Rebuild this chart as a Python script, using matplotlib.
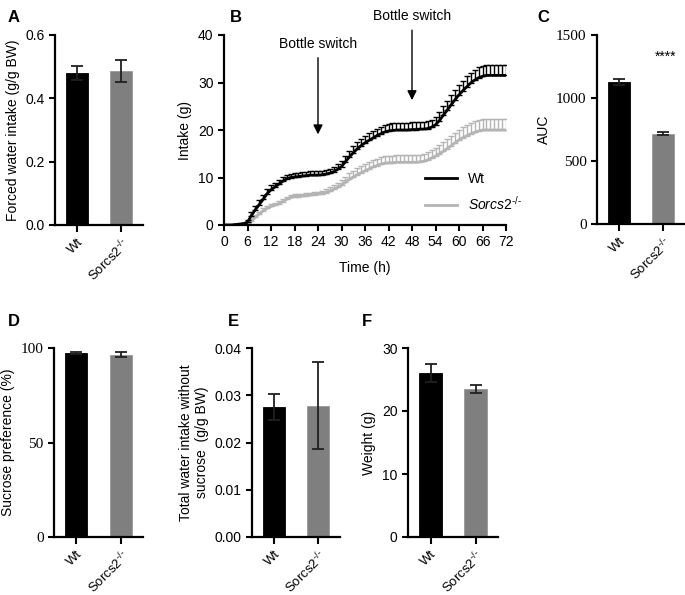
import numpy as np
import matplotlib
matplotlib.use("Agg")
import matplotlib.pyplot as plt

plt.rcParams['font.family'] = ['Liberation Sans', 'DejaVu Sans']
plt.rcParams['mathtext.fontset'] = 'custom'
plt.rcParams['mathtext.rm'] = 'Liberation Sans'
plt.rcParams['mathtext.it'] = 'Liberation Sans:italic'
plt.rcParams['axes.linewidth'] = 1.6

groups = ["Wt", r"Sorcs2$^{\text{-/-}}$"]
bar_colors = ["black", "#7f7f7f"]

# A: forced water intake
forced_mean = [0.48, 0.487]
forced_se = [0.022, 0.035]

# B: cumulative intake, hourly
hours = list(range(0, 73))
wt_intake = [0, 0, 0, 0.1, 0.2, 0.3, 0.6, 2.0, 3.2, 4.3, 5.4, 6.6, 7.4, 8.0, 8.6, 9.2, 9.7, 10.0,
             10.1, 10.2, 10.3, 10.4, 10.5, 10.5, 10.5, 10.6, 10.7, 10.9, 11.2, 11.7, 12.3, 13.3,
             14.3, 15.2, 16.0, 16.7, 17.3, 17.8, 18.3, 18.8, 19.2, 19.6, 19.8, 19.9, 20.0, 20.0,
             20.0, 20.0, 20.1, 20.1, 20.2, 20.2, 20.3, 20.6, 21.1, 22.0, 23.1, 24.2, 25.3, 26.4,
             27.4, 28.3, 29.1, 29.9, 30.5, 31.0, 31.3, 31.5, 31.5, 31.5, 31.5, 31.5, 31.5]
wt_se = [0, 0, 0, 0.05, 0.1, 0.2, 0.4, 0.8, 0.9, 1.0, 1.0, 1.0, 1.0, 0.9, 0.9, 0.9, 0.8, 0.8,
         0.8, 0.8, 0.8, 0.8, 0.8, 0.8, 0.8, 0.8, 0.9, 0.9, 1.0, 1.1, 1.2, 1.3, 1.3, 1.4, 1.4,
         1.4, 1.5, 1.5, 1.5, 1.5, 1.5, 1.5, 1.5, 1.5, 1.5, 1.5, 1.5, 1.5, 1.5, 1.5, 1.5, 1.5,
         1.5, 1.6, 1.7, 1.8, 1.9, 2.0, 2.0, 2.1, 2.1, 2.1, 2.2, 2.2, 2.2, 2.2, 2.2, 2.2, 2.2,
         2.2, 2.2, 2.2, 2.2]
ko_intake = [0, 0, 0, 0, 0, 0.1, 0.2, 0.8, 1.6, 2.3, 3.0, 3.5, 3.9, 4.2, 4.5, 4.9, 5.4, 5.8,
             6.0, 6.0, 6.1, 6.2, 6.3, 6.4, 6.5, 6.6, 6.8, 7.1, 7.5, 7.9, 8.4, 9.0, 9.6, 10.1,
             10.6, 11.0, 11.4, 11.8, 12.2, 12.5, 12.8, 13.0, 13.1, 13.1, 13.2, 13.2, 13.2, 13.2,
             13.2, 13.2, 13.3, 13.4, 13.7, 14.1, 14.5, 15.0, 15.5, 16.1, 16.7, 17.3, 17.9, 18.4,
             18.8, 19.2, 19.5, 19.8, 20.0, 20.0, 20.0, 20.0, 20.0, 20.0, 20.0]
ko_se = [0, 0, 0, 0, 0, 0.1, 0.2, 0.4, 0.5, 0.5, 0.5, 0.5, 0.5, 0.5, 0.5, 0.5, 0.5, 0.5,
         0.5, 0.5, 0.5, 0.5, 0.5, 0.5, 0.5, 0.6, 0.7, 0.8, 0.9, 1.0, 1.1, 1.2, 1.3, 1.3, 1.4,
         1.4, 1.4, 1.5, 1.5, 1.5, 1.5, 1.5, 1.5, 1.5, 1.5, 1.5, 1.5, 1.5, 1.5, 1.5, 1.5, 1.6,
         1.6, 1.7, 1.8, 1.9, 2.0, 2.0, 2.1, 2.1, 2.2, 2.2, 2.2, 2.3, 2.3, 2.3, 2.3, 2.3, 2.3,
         2.3, 2.3, 2.3, 2.3]
switch_hours = [24, 48]

# C: AUC
auc_mean = [1125, 715]
auc_se = [25, 12]

# D: sucrose preference
pref_mean = [97.3, 96.5]
pref_se = [0.4, 1.3]

# E: total water intake without sucrose
water_mean = [0.0275, 0.0278]
water_se = [0.0027, 0.0092]

# F: weight
weight_mean = [26.0, 23.5]
weight_se = [1.4, 0.7]

W, H = 685, 595
fig = plt.figure(figsize=(W / 100, H / 100), dpi=100)


def box(l, t, r, b):
    return [l / W, 1 - b / H, (r - l) / W, (b - t) / H]


def style(ax, serif_ticks=False):
    for s in ("top", "right"):
        ax.spines[s].set_visible(False)
    ax.tick_params(width=1.5, length=4, labelsize=10)
    if serif_ticks:
        for lab in ax.get_yticklabels():
            lab.set_family("Liberation Serif")
            lab.set_fontsize(11)


def bar_panel(rect, means, ses, ylim, yticks, ylabel, fmt, serif=False):
    ax = fig.add_axes(rect)
    x = np.arange(len(means))
    ax.bar(x, means, width=0.5, color=bar_colors, edgecolor=["black", "#9a9a9a"], linewidth=0.6)
    for xi, m, s in zip(x, means, ses):
        ax.errorbar(xi, m, yerr=s, color="#202020", capsize=4, elinewidth=1.3, capthick=1.3)
    ax.set_xlim(-0.5, 1.5)
    ax.set_ylim(*ylim)
    ax.set_yticks(yticks)
    ax.set_yticklabels([fmt.format(v) for v in yticks])
    ax.set_xticks(x)
    ax.set_xticklabels(groups, rotation=45, ha="right", rotation_mode="anchor")
    style(ax, serif)
    ax.tick_params(axis="x", length=5, labelsize=9.5, pad=3)
    ax.set_ylabel(ylabel, fontsize=10)
    return ax


axA = bar_panel(box(55, 35, 143, 225), forced_mean, forced_se, (0, 0.6),
                [0, 0.2, 0.4, 0.6], "Forced water intake (g/g BW)", "{:.1f}")

# B
axB = fig.add_axes(box(224, 35, 506, 225))
axB.errorbar(hours, wt_intake, yerr=[np.zeros(len(wt_se)), wt_se], color="black", lw=2,
             elinewidth=1, capsize=2, capthick=1, label="Wt", zorder=3)
axB.errorbar(hours, ko_intake, yerr=[np.zeros(len(ko_se)), ko_se], color="#b4b4b4", lw=2,
             elinewidth=1, capsize=2, capthick=1, label=r"$\mathit{Sorcs2}^{\text{-/-}}$", zorder=2)
axB.set_xlim(0, 72)
axB.set_ylim(0, 40)
axB.set_xticks(range(0, 73, 6))
axB.set_yticks([0, 10, 20, 30, 40])
axB.set_xlabel("Time (h)", fontsize=10, labelpad=8)
axB.set_ylabel("Intake (g)", fontsize=10)
style(axB)
for hx, tip, top in zip(switch_hours, [18.5, 25.7], [35.8, 41.6]):
    axB.annotate("", xy=(hx, tip), xytext=(hx, top),
                 arrowprops=dict(arrowstyle="-|>", color="black", lw=1, mutation_scale=14),
                 annotation_clip=False)
    axB.text(hx, top + 2.3, "Bottle switch", ha="center", va="center", fontsize=10, clip_on=False)
handles, labels = axB.get_legend_handles_labels()
axB.legend([h[0] for h in handles], labels, loc="lower right", bbox_to_anchor=(1.1, 0.0),
           frameon=False, fontsize=10, handlelength=2.3, labelspacing=0.6)

# C
axC = bar_panel(box(597, 35, 685, 224), auc_mean, auc_se, (0, 1500),
                [0, 500, 1000, 1500], "AUC", "{:d}", serif=True)
axC.text(1.05, 1330, "****", ha="center", va="center", fontsize=10)

axD = bar_panel(box(54, 348, 143, 537), pref_mean, pref_se, (0, 100),
                [0, 50, 100], "Sucrose preference (%)", "{:d}", serif=True)
axE = bar_panel(box(252, 348, 340, 537), water_mean, water_se, (0, 0.04),
                [0, 0.01, 0.02, 0.03, 0.04], "Total water intake without\nsucrose  (g/g BW)", "{:.2f}")
axF = bar_panel(box(408, 348, 498, 537), weight_mean, weight_se, (0, 30),
                [0, 10, 20, 30], "Weight (g)", "{:d}")

for lbl, px, py in [("A", 8, 17), ("B", 230, 17), ("C", 537, 17),
                    ("D", 8, 322), ("E", 228, 322), ("F", 362, 322)]:
    fig.text(px / W, 1 - py / H, lbl, fontsize=12, fontweight="bold", va="center", ha="left")

fig.savefig("out.png", dpi=100)
